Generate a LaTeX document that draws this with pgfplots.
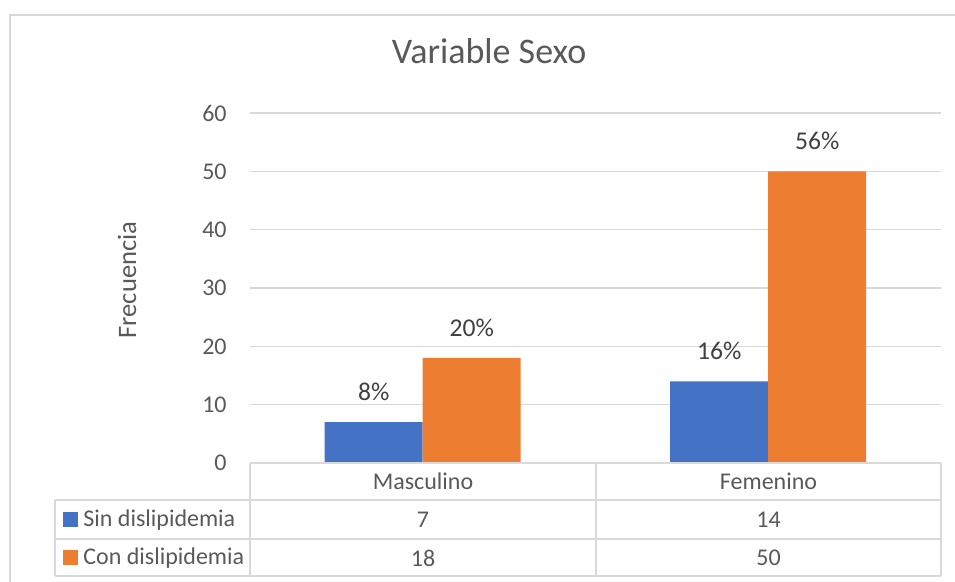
\documentclass[border=0pt]{standalone}
\usepackage{fontspec}
\setmainfont{Carlito}
\usepackage{pgfplots}
\usepackage{pgfplotstable}
\pgfplotsset{compat=1.18}
\definecolor{SerieAzul}{HTML}{4472C4}
\definecolor{SerieNaranja}{HTML}{ED7D31}
\definecolor{TextoGris}{HTML}{595959}
\definecolor{Etiqueta}{HTML}{404040}
\definecolor{Rejilla}{HTML}{D9D9D9}

% frecuencias y porcentajes por sexo
\pgfplotstableread{
x sin con psin pcon
0 7  18 8  20
1 14 50 16 56
}\datos

\begin{document}
\begin{tikzpicture}[font=\fontsize{12}{14.4}\selectfont]
% 1 px de la referencia = 0.5pt; origen en la esquina inferior izquierda del area de trazado
\useasboundingbox (-125pt,-59.5pt) rectangle (352.5pt,231.5pt);
\draw[Rejilla, line width=0.75pt] (-120pt,-70pt) -- (-120pt,224pt) -- (360pt,224pt);

\begin{axis}[
    at={(0,0)}, anchor=south west,
    scale only axis,
    width=345.5pt, height=175pt,
    ybar=0pt, bar width=49pt,
    xmin=-0.5, xmax=1.5,
    ymin=0, ymax=60,
    ytick={0,10,...,60},
    xtick=\empty,
    major tick length=0pt,
    axis line style={draw=none},
    ymajorgrids,
    grid style={Rejilla, line width=0.75pt},
    yticklabel style={text=TextoGris, inner sep=0pt, anchor=east, xshift=-11.5pt},
    /pgf/number format/assume math mode=true,
    title={Variable Sexo},
    title style={at={(axis description cs:0.346,1.143)}, anchor=center,
        text=TextoGris, font=\fontsize{18}{21.6}\selectfont},
    ylabel={Frecuencia},
    ylabel style={at={(axis description cs:-0.178,0.523)}, anchor=center,
        text=TextoGris, font=\fontsize{13.3}{16}\selectfont},
    nodes near coords={\pgfplotspointmeta\%},
    point meta=explicit symbolic,
    every node near coord/.append style={text=Etiqueta, anchor=center, yshift=15pt,
        font=\fontsize{12.8}{15}\selectfont},
]
\addplot[fill=SerieAzul, draw=none] table[x=x, y=sin, meta=psin] {\datos};
\addplot[fill=SerieNaranja, draw=none] table[x=x, y=con, meta=pcon] {\datos};
\end{axis}

% tabla de datos
\begin{scope}[Rejilla, line width=0.75pt]
\draw (0pt,0pt) -- (345.5pt,0pt);
\draw (-97.5pt,-18.5pt) -- (345.5pt,-18.5pt);
\draw (-97.5pt,-38pt) -- (345.5pt,-38pt);
\draw (-97.5pt,-56.5pt) -- (345.5pt,-56.5pt);
\draw (-97.5pt,-18.5pt) -- (-97.5pt,-56.5pt);
\draw (0pt,0pt) -- (0pt,-56.5pt);
\draw (173pt,0pt) -- (173pt,-56.5pt);
\draw (345.5pt,0pt) -- (345.5pt,-56.5pt);
\end{scope}
\begin{scope}[every node/.style={text=TextoGris, inner sep=0pt}]
\node at (86.5pt,-9.3pt) {Masculino};
\node at (259.25pt,-9.3pt) {Femenino};
\fill[SerieAzul] (-93.5pt,-32.25pt) rectangle ++(7.5pt,7.5pt);
\node[anchor=west] at (-83.5pt,-28.5pt) {Sin dislipidemia};
\fill[SerieNaranja] (-93.5pt,-51.25pt) rectangle ++(7.5pt,7.5pt);
\node[anchor=west] at (-83.5pt,-47.5pt) {Con dislipidemia};
\node at (86.5pt,-28.5pt) {7};
\node at (259.25pt,-28.5pt) {14};
\node at (86.5pt,-47.5pt) {18};
\node at (259.25pt,-47.5pt) {50};
\end{scope}
\end{tikzpicture}
\end{document}
